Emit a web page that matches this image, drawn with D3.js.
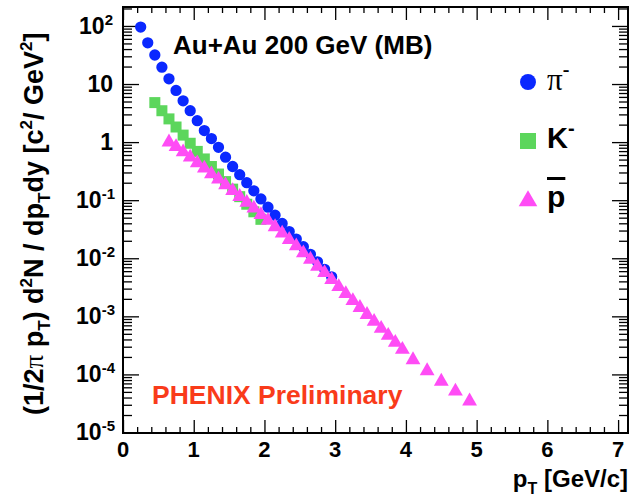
<!DOCTYPE html>
<html>
<head>
<meta charset="utf-8">
<script src="https://cdn.jsdelivr.net/npm/d3@7"></script>
<style>
  body { margin: 0; background: #fff; }
  text { font-family: "Liberation Sans", Arial, sans-serif; font-weight: bold; }
</style>
</head>
<body>
<script>
// pT bin centres [GeV/c] and invariant yields
var piPt = [0.25, 0.35, 0.45, 0.55, 0.65, 0.75, 0.85, 0.95, 1.05, 1.15, 1.25, 1.35, 1.45, 1.55,
            1.65, 1.75, 1.85, 1.95, 2.05, 2.15, 2.25, 2.35, 2.45, 2.55, 2.65, 2.75, 2.85, 2.95];
var piYield = [95.5, 51.3, 31.6, 19.5, 12.3, 7.76, 5.13, 3.47, 2.34, 1.58, 1.15, 0.813, 0.550, 0.380,
               0.275, 0.200, 0.145, 0.105, 0.0759, 0.0550, 0.0398, 0.0288, 0.0214, 0.0158, 0.0117,
               0.0087, 0.00646, 0.00479];

var kPt = [0.45, 0.55, 0.65, 0.75, 0.85, 0.95, 1.05, 1.15, 1.25, 1.35, 1.45, 1.55, 1.65, 1.75, 1.85, 1.95];
var kYield = [4.79, 3.47, 2.51, 1.82, 1.32, 0.955, 0.692, 0.513, 0.380, 0.282, 0.209, 0.155, 0.115,
              0.0851, 0.0631, 0.0468];

var pPt = [0.65, 0.75, 0.85, 0.95, 1.05, 1.15, 1.25, 1.35, 1.45, 1.55, 1.65, 1.75, 1.85, 1.95,
           2.05, 2.15, 2.25, 2.35, 2.45, 2.55, 2.65, 2.75, 2.85, 2.95, 3.05, 3.15, 3.25, 3.35,
           3.45, 3.55, 3.65, 3.75, 3.85, 3.95, 4.1, 4.3, 4.5, 4.7, 4.9];
var pYield = [1.00, 0.832, 0.676, 0.550, 0.437, 0.355, 0.282, 0.229, 0.182, 0.145, 0.115, 0.0912,
              0.0724, 0.0562, 0.0447, 0.0347, 0.0269, 0.0209, 0.0162, 0.0123, 0.00955, 0.00724,
              0.00562, 0.00427, 0.00324, 0.00245, 0.00186, 0.00141, 0.00107, 8.13e-4, 6.17e-4,
              4.68e-4, 3.55e-4, 2.69e-4, 1.78e-4, 1.15e-4, 7.59e-5, 5.13e-5, 3.47e-5];

var xTicks = [0, 1, 2, 3, 4, 5, 6, 7];
var yExponents = [-5, -4, -3, -2, -1, 0, 1, 2];

// frame (window.top is reserved, hence the names)
var W = 637, H = 504;
var fLeft = 123, fRight = 628, fTop = 7, fBottom = 433;

var svg = d3.select("body").append("svg")
    .attr("width", W)
    .attr("height", H);

var x = d3.scaleLinear().domain([0, 7.14]).range([fLeft, fRight]);
var y = d3.scaleLog().domain([9.8e-6, 212]).range([fBottom, fTop]);

// x ticks: majors at integers, minors every 0.2
var xMinor = d3.range(0, 7.15, 0.2).filter(function(v) { return Math.abs(v - Math.round(v)) > 1e-6; });

function styleAxis(g, gen) {
  g.call(gen);
  g.select(".domain").remove();
  g.selectAll("line").attr("stroke", "#000").attr("stroke-width", 1.3);
}

svg.append("g").attr("transform", "translate(0," + fBottom + ")")
  .call(styleAxis, d3.axisBottom(x).tickValues(xTicks).tickSize(-13).tickFormat(""));
svg.append("g").attr("transform", "translate(0," + fBottom + ")")
  .call(styleAxis, d3.axisBottom(x).tickValues(xMinor).tickSize(-6).tickFormat(""));
svg.append("g").attr("transform", "translate(0," + fTop + ")")
  .call(styleAxis, d3.axisTop(x).tickValues(xTicks).tickSize(-13).tickFormat(""));
svg.append("g").attr("transform", "translate(0," + fTop + ")")
  .call(styleAxis, d3.axisTop(x).tickValues(xMinor).tickSize(-6).tickFormat(""));

// y ticks: decades and 2..9 minors
var yMajor = yExponents.map(function(e) { return Math.pow(10, e); });
var yMinor = [];
d3.range(-6, 3).forEach(function(e) {
  for (var k = 2; k <= 9; k++) {
    var v = k * Math.pow(10, e);
    if (v >= 9.8e-6 && v <= 212) yMinor.push(v);
  }
});

svg.append("g").attr("transform", "translate(" + fLeft + ",0)")
  .call(styleAxis, d3.axisLeft(y).tickValues(yMajor).tickSize(-16).tickFormat(""));
svg.append("g").attr("transform", "translate(" + fLeft + ",0)")
  .call(styleAxis, d3.axisLeft(y).tickValues(yMinor).tickSize(-9).tickFormat(""));
svg.append("g").attr("transform", "translate(" + fRight + ",0)")
  .call(styleAxis, d3.axisRight(y).tickValues(yMajor).tickSize(-16).tickFormat(""));
svg.append("g").attr("transform", "translate(" + fRight + ",0)")
  .call(styleAxis, d3.axisRight(y).tickValues(yMinor).tickSize(-9).tickFormat(""));

// frame box
svg.append("rect")
  .attr("x", fLeft).attr("y", fTop)
  .attr("width", fRight - fLeft).attr("height", fBottom - fTop)
  .attr("fill", "none").attr("stroke", "#000").attr("stroke-width", 2);

// x tick labels
svg.selectAll(".xlab")
  .data(xTicks)
  .enter().append("text")
  .attr("x", function(d) { return x(d); })
  .attr("y", fBottom + 24)
  .attr("text-anchor", "middle")
  .attr("font-size", 22)
  .text(function(d) { return d; });

// y tick labels
var ylab = svg.selectAll(".ylab")
  .data(yExponents)
  .enter().append("text")
  .attr("x", function(d) { return d < 0 ? fLeft - 8 : fLeft - 10; })
  .attr("y", function(d) { return y(Math.pow(10, d)) + 8; })
  .attr("text-anchor", "end")
  .attr("font-size", 23);
ylab.each(function(e) {
  var t = d3.select(this);
  if (e === 0) { t.text("1"); return; }
  if (e === 1) { t.text("10"); return; }
  t.append("tspan").text("10");
  t.append("tspan").attr("dy", -9).attr("font-size", 15)
    .text(e < 0 ? "-" + (-e) : String(e));
});

// axis titles
var xt = svg.append("text")
  .attr("x", fRight)
  .attr("y", 487)
  .attr("text-anchor", "end")
  .attr("font-size", 24);
xt.append("tspan").text("p");
xt.append("tspan").attr("dy", 7).attr("font-size", 16).text("T");
xt.append("tspan").attr("dy", -7).text(" [GeV/c]");

var yt = svg.append("text")
  .attr("transform", "translate(43,415) rotate(-90)")
  .attr("x", 0).attr("y", 0)
  .attr("text-anchor", "start")
  .attr("font-size", 27);
[["(1/2", 0, 27], ["\u03c0", 0, 27, true], [" p", 0, 27], ["T", 7, 17], [") d", -7, 27],
 ["2", -11, 17], ["N / dp", 11, 27], ["T", 7, 17], ["dy [c", -7, 27], ["2", -11, 17],
 ["/ GeV", 11, 27], ["2", -11, 17], ["]", 11, 27]]
  .forEach(function(p) {
    var ts = yt.append("tspan").attr("dy", p[1]).attr("font-size", p[2]).text(p[0]);
    if (p[3]) ts.style("font-family", "'Liberation Serif', serif").style("font-weight", "normal");
  });

// markers
var cBlue = "#0a28ff", cGreen = "#5cd65c", cPink = "#ff4cf5";

svg.append("g").selectAll("path")
  .data(d3.zip(piPt, piYield))
  .enter().append("path")
  .attr("transform", function(d) { return "translate(" + x(d[0]) + "," + y(d[1]) + ")"; })
  .attr("d", d3.symbol(d3.symbolCircle, 100))
  .attr("fill", cBlue);

svg.append("g").selectAll("path")
  .data(d3.zip(kPt, kYield))
  .enter().append("path")
  .attr("transform", function(d) { return "translate(" + x(d[0]) + "," + y(d[1]) + ")"; })
  .attr("d", d3.symbol(d3.symbolSquare, 121))
  .attr("fill", cGreen);

svg.append("g").selectAll("path")
  .data(d3.zip(pPt, pYield))
  .enter().append("path")
  .attr("transform", function(d) { return "translate(" + x(d[0]) + "," + y(d[1]) + ")"; })
  .attr("d", d3.symbol(d3.symbolTriangle, 95))
  .attr("fill", cPink);

// labels inside frame
svg.append("text")
  .attr("x", 173).attr("y", 54)
  .attr("font-size", 26)
  .text("Au+Au 200 GeV (MB)");

svg.append("text")
  .attr("x", 152).attr("y", 404)
  .attr("font-size", 26.5)
  .attr("fill", "#f93b1a")
  .text("PHENIX Preliminary");

// legend
svg.append("path")
  .attr("transform", "translate(528,82)")
  .attr("d", d3.symbol(d3.symbolCircle, 200))
  .attr("fill", cBlue);
svg.append("path")
  .attr("transform", "translate(528,141)")
  .attr("d", d3.symbol(d3.symbolSquare, 256))
  .attr("fill", cGreen);
svg.append("path")
  .attr("transform", "translate(528,201)")
  .attr("d", d3.symbol(d3.symbolTriangle, 150))
  .attr("fill", cPink);

var l1 = svg.append("text").attr("x", 547).attr("y", 90)
  .style("font-family", "'Liberation Serif', serif").style("font-weight", "normal")
  .attr("font-size", 31);
l1.append("tspan").text("\u03c0");
l1.append("tspan").attr("dy", -14).attr("font-size", 20).style("font-weight", "bold").text("-");

var l2 = svg.append("text").attr("x", 547).attr("y", 148).attr("font-size", 29);
l2.append("tspan").text("K");
l2.append("tspan").attr("dy", -13).attr("font-size", 20).text("-");

svg.append("text").attr("x", 547).attr("y", 207).attr("font-size", 30)
  .style("text-decoration", "overline")
  .text("p");
</script>
</body>
</html>
